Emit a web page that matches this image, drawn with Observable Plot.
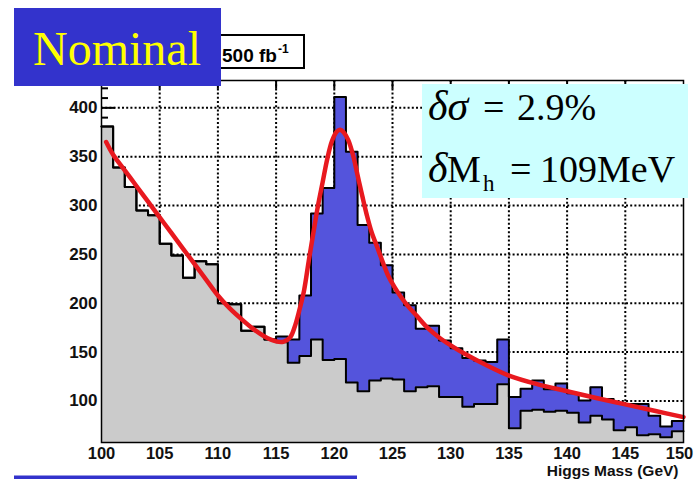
<!DOCTYPE html>
<html>
<head>
<meta charset="utf-8">
<script src="https://cdn.jsdelivr.net/npm/d3@7"></script>
<script src="https://cdn.jsdelivr.net/npm/@observablehq/plot@0.6"></script>
<style>
  html, body { margin: 0; padding: 0; background: #ffffff; }
  #chart { width: 695px; height: 479px; }
</style>
</head>
<body>
<div id="chart"></div>
<script>
// Lower edge of each 1 GeV mass bin
const binStart = [100,101,102,103,104,105,106,107,108,109,110,111,112,113,114,115,116,117,118,119,
                  120,121,122,123,124,125,126,127,128,129,130,131,132,133,134,135,136,137,138,139,
                  140,141,142,143,144,145,146,147,148,149];
const binEnd = 150;

// Background-only events per bin
const background = [381,339,319,295,290,261,249,226,243,240,200,199,172,176,163,160,139,146,163,142,
                    143,119,110,121,123,122,110,114,115,104,104,94,97,97,117,72,90,91,89,90,
                    88,78,85,81,70,73,65,66,63,69];

// Signal + background events per bin
const total = [381,339,319,295,290,261,249,226,243,240,200,199,172,176,163,166,163,208,292,318,
               411,355,280,262,239,211,198,174,177,162,154,144,141.5,140,163,104,112.5,121,112,118,
               108,100.5,114,102,98,97,97,85,74,79.5];

// Fitted signal + background curve, sampled along the mass axis
const fitMass  = [100.4,101,102,103,104,105,106,107,108,109,110,111,112,113,114,115,115.6,116.2,116.6,117,
                  117.4,117.8,118.2,118.6,119,119.4,119.8,120.2,120.5,120.8,121.2,121.6,122,122.4,122.8,123.2,
                  123.7,124.2,124.6,125.2,125.7,126.4,127.1,128,129,130,131.4,133,135,137.5,140,142.5,145,147.5,150];
const fitValue = [365,352,336,320,304,288,272,256,240,224,208,195,184,174,166,161,160.5,165,176,193,
                  213,243,272,300,324,348,366,375.5,377.5,375,367,352,331,310,290,273,
                  257,241,229,216,207,196,187,175,165,157,147,137,126,117,110,103,96.5,90,83.5];

const xTicks = [100,105,110,115,120,125,130,135,140,145];
const xLastTick = [150];
const xGrid  = [105,110,115,120,125,130,135,140,145];
const yTicks = [100,150,200,250,300,350,400];
const yMinorTicks = [60,70,80,90,110,120,130,140,160,170,180,190,210,220,230,240,260,270,280,290,
                     310,320,330,340,360,370,380,390,410,420];
const yDomain = [57.5, 428];

const xTitle = "Higgs Mass (GeV)";
const tagText = "Nominal";
const lumiText = "500 fb";
const lumiExp = "-1";
const resSigma = "2.9%";
const resMass = "109MeV";

const steps = binStart.map((m, i) => ({m, bg: background[i], tot: total[i]}));
steps.push({m: binEnd, bg: background[background.length - 1], tot: total[total.length - 1]});
const fit = fitMass.map((m, i) => ({m, v: fitValue[i]}));

const blue = "#5454dc";
const grey = "#cbcbcb";
const xAxisStyle = {tickSize: 0, tickPadding: 5, fontSize: 16.5, fontWeight: "bold", label: null};

const plot = Plot.plot({
  width: 695,
  height: 479,
  marginLeft: 101,
  marginRight: 12,
  marginTop: 80,
  marginBottom: 37,
  x: {domain: [100, 150]},
  y: {domain: yDomain},
  style: {background: "#ffffff", color: "#111", fontFamily: "'Liberation Sans', Arial, sans-serif"},
  marks: [
    Plot.gridX(xGrid, {stroke: "#000", strokeOpacity: 1, strokeWidth: 2, strokeDasharray: "2 2.2"}),
    Plot.gridY(yTicks, {stroke: "#000", strokeOpacity: 1, strokeWidth: 2, strokeDasharray: "2 2.2"}),
    // inward ticks on the left and top edges
    Plot.ruleY(yTicks, {x1: 100, x2: 101.2, stroke: "#000", strokeWidth: 2}),
    Plot.ruleY(yMinorTicks, {x1: 100, x2: 100.6, stroke: "#000", strokeWidth: 2}),
    Plot.ruleX(xGrid, {y1: yDomain[1], y2: yDomain[1] - 9, stroke: "#000", strokeWidth: 2}),
    // histogram fills
    Plot.areaY(steps, {x: "m", y1: yDomain[0], y2: "bg", curve: "step-after", fill: grey}),
    Plot.areaY(steps, {x: "m", y1: "bg", y2: "tot", curve: "step-after", fill: blue}),
    // histogram outlines
    Plot.line(steps, {x: "m", y: "bg", curve: "step-after", stroke: "#000", strokeWidth: 2}),
    Plot.line(steps, {x: "m", y: "tot", curve: "step-after", stroke: "#000", strokeWidth: 2}),
    // fit
    Plot.line(fit, {x: "m", y: "v", curve: "catmull-rom", stroke: "#e8191f", strokeWidth: 4.5}),
    Plot.frame({stroke: "#000", strokeWidth: 1.5}),
    Plot.axisY(yTicks, {tickSize: 0, tickPadding: 4, fontSize: 17, fontWeight: "bold", label: null}),
    Plot.axisX(xTicks, xAxisStyle),
    // last label nudged left so it stays inside the page
    Plot.axisX(xLastTick, {...xAxisStyle, dx: -4}),
    Plot.text([xTitle], {x: () => 150, y: () => yDomain[0], text: d => d, textAnchor: "end",
                         lineAnchor: "top", dx: -5, dy: 22, fontSize: 15.5, fontWeight: "bold"})
  ]
});

document.getElementById("chart").appendChild(plot);

// annotation boxes drawn on top of the plot
const svg = d3.select(plot);
const ann = svg.append("g").attr("text-anchor", "start");

// luminosity box
ann.append("rect").attr("x", 195).attr("y", 35).attr("width", 109).attr("height", 33)
  .attr("fill", "#fff").attr("stroke", "#000").attr("stroke-width", 2);
const lumi = ann.append("text").attr("x", 222).attr("y", 61.5).attr("text-anchor", "start")
  .attr("font-family", "'Liberation Sans', Arial, sans-serif").attr("font-weight", "bold")
  .attr("font-size", 19).attr("fill", "#000");
lumi.append("tspan").text(lumiText);
lumi.append("tspan").attr("dx", 1).attr("dy", -9).attr("font-size", 12).text(lumiExp);

// "Nominal" tag
ann.append("rect").attr("x", 14).attr("y", 8).attr("width", 207).attr("height", 78).attr("fill", "#3333cc");
ann.append("text").attr("x", 33).attr("y", 65).attr("text-anchor", "start")
  .attr("font-family", "'Liberation Serif', 'Times New Roman', serif").attr("font-size", 48)
  .attr("fill", "#ffff00").text(tagText);

// resolution box
ann.append("rect").attr("x", 422).attr("y", 84).attr("width", 266).attr("height", 114).attr("fill", "#ccffff");
const serif = "'Liberation Serif', 'Times New Roman', serif";
const l1 = ann.append("text").attr("y", 120).attr("text-anchor", "start")
  .attr("font-family", serif).attr("font-size", 38).attr("fill", "#000");
l1.append("tspan").attr("x", 428).attr("font-style", "italic").attr("font-size", 42).text("δσ");
l1.append("tspan").attr("x", 483).text("=");
l1.append("tspan").attr("x", 517).text(resSigma);
const l2 = ann.append("text").attr("y", 181.7).attr("text-anchor", "start")
  .attr("font-family", serif).attr("font-size", 38).attr("fill", "#000");
l2.append("tspan").attr("x", 428).attr("font-style", "italic").attr("font-size", 42).text("δ");
l2.append("tspan").attr("x", 447).text("M");
l2.append("tspan").attr("x", 483).attr("dy", 9).attr("font-size", 23).text("h");
l2.append("tspan").attr("x", 510).attr("dy", -9).text("=");
l2.append("tspan").attr("x", 540).text(resMass);

// underline bar
ann.append("rect").attr("x", 14).attr("y", 475.5).attr("width", 343).attr("height", 4).attr("fill", "#3333cc");
</script>
</body>
</html>
